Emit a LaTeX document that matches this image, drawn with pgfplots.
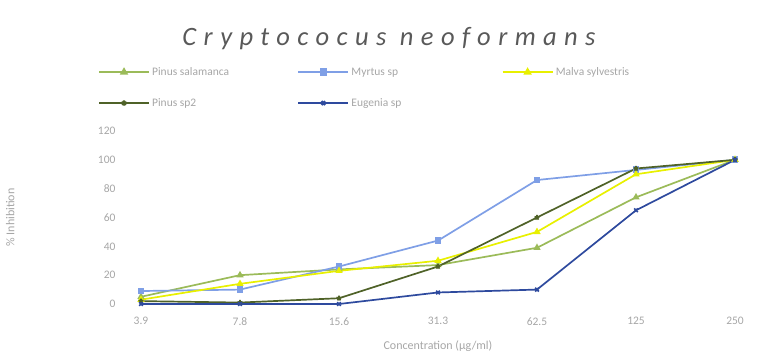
\documentclass[border=0pt]{standalone}
\usepackage{fontspec}
\setmainfont{Carlito}
\newfontfamily\titlefont{Carlito}[LetterSpace=28.0]
\usepackage{pgfplots}
\pgfplotsset{compat=1.18}
\definecolor{cLG}{HTML}{9BBB59}
\definecolor{cMB}{HTML}{7F9FE6}
\definecolor{cYL}{HTML}{E8F000}
\definecolor{cDG}{HTML}{4F6228}
\definecolor{cDB}{HTML}{2E4A9E}
\definecolor{txt}{HTML}{A6A6A6}
\begin{document}
\begin{tikzpicture}[x=1pt,y=1pt]
\path[use as bounding box] (0,0) rectangle (757,356);
\node[font=\titlefont\itshape\fontsize{26.5}{28}\selectfont, text=black!65] at (389,317) {Cryptococus neoformans};
\begin{axis}[
  at={(141pt,52pt)}, anchor=south west,
  scale only axis, width=594pt, height=173pt,
  xmin=0, xmax=6, ymin=0, ymax=120,
  clip=false,
  axis line style={draw=none},
  xtick={0,...,6},
  xticklabels={3.9,7.8,15.6,31.3,62.5,125,250},
  ytick={0,20,40,60,80,100,120},
  tick style={draw=none},
  ticklabel style={font=\fontsize{11.5}{13}\selectfont, text=txt},
  /pgf/number format/assume math mode=true,
  xticklabel style={yshift=-10pt},
  yticklabel style={xshift=-22pt},
  xlabel={Concentration (µg/ml)},
  ylabel={\% Inhibition},
  label style={font=\fontsize{12}{14}\selectfont, text=txt},
  xlabel style={at={(axis description cs:0.5,-0.19)}, anchor=north},
  ylabel style={at={(axis description cs:-0.207,0.50)}, anchor=south},
  legend columns=3,
  legend style={at={(-0.078,1.392)}, anchor=north west, draw=none, fill=none,
    font=\fontsize{11.5}{13}\selectfont, text=txt, row sep=17.5pt,
    /tikz/every even column/.append style={column sep=0pt}},
  legend cell align=left,
  legend image code/.code={\draw[mark repeat=2,mark phase=2,line width=2.3pt,#1] plot coordinates {(0pt,0pt) (25pt,0pt) (50pt,0pt)};},
  every axis plot/.append style={line width=1.7pt, mark size=2.6pt},
]
\addplot[color=cLG, mark=triangle*] coordinates {(0,5) (1,20) (2,24) (3,27) (4,39) (5,74) (6,100)};
\addlegendentry{\makebox[143pt][l]{Pinus salamanca}}
\addplot[color=cMB, mark=square*] coordinates {(0,9) (1,10) (2,26) (3,44) (4,86) (5,93) (6,100)};
\addlegendentry{\makebox[148pt][l]{Myrtus sp}}
\addplot[color=cYL, mark=triangle*] coordinates {(0,3) (1,14) (2,23) (3,30) (4,50) (5,90) (6,100)};
\addlegendentry{Malva sylvestris}
\addplot[color=cDG, mark=star] coordinates {(0,2) (1,1) (2,4) (3,26) (4,60) (5,94) (6,100)};
\addlegendentry{\makebox[143pt][l]{Pinus sp2}}
\addplot[color=cDB, mark=x] coordinates {(0,0) (1,0) (2,0) (3,8) (4,10) (5,65) (6,100)};
\addlegendentry{\makebox[148pt][l]{Eugenia sp}}
\end{axis}
\end{tikzpicture}
\end{document}
